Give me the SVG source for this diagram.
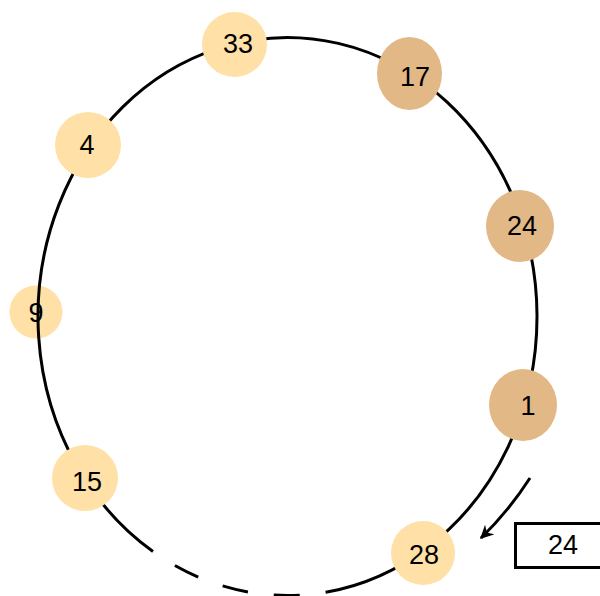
<svg xmlns="http://www.w3.org/2000/svg" width="600" height="596" viewBox="0 0 600 596">
<defs>
<style>
.light{fill:#FFE0A6;}
.dark{fill:#E2B886;}
.t{font-family:"Liberation Sans",Arial,sans-serif;font-size:27px;fill:#000;text-anchor:middle;dominant-baseline:central;}
.ring{fill:none;stroke:#000;stroke-width:3;}
</style>
<marker id="ah" viewBox="0 0 10 10" refX="9" refY="5" markerWidth="4.5" markerHeight="4.5" orient="auto" markerUnits="strokeWidth">
<path d="M0,0 L10,5 L0,10 L3,5 z" fill="#000"/>
</marker>
</defs>
<rect width="600" height="596" fill="#fff"/>
<g id="node-9"><circle class="light" cx="36" cy="312" r="26.5"/><text class="t" x="36" y="313">9</text></g>
<g id="connectors">
<path class="ring" d="M327,592 A249.5,279 0 1 0 153,551.5"/>
<path class="ring" d="M153,551.5 A249.5,279 0 0 0 327,592" stroke-dasharray="26 26" stroke-dashoffset="26"/>
<path d="M530,478 Q508,512 481,538" fill="none" stroke="#000" stroke-width="3" marker-end="url(#ah)"/>
</g>
<g id="node-33"><circle class="light" cx="234.5" cy="44.5" r="32.5"/><text class="t" x="238" y="44">33</text></g>
<g id="node-17"><ellipse class="dark" cx="409.5" cy="73.5" rx="32.5" ry="36.5"/><text class="t" x="415" y="77">17</text></g>
<g id="node-4"><circle class="light" cx="88" cy="145" r="33"/><text class="t" x="87" y="145">4</text></g>
<g id="node-24"><ellipse class="dark" cx="520" cy="226" rx="34" ry="36"/><text class="t" x="522" y="226">24</text></g>
<g id="node-1"><ellipse class="dark" cx="523" cy="405" rx="34" ry="36"/><text class="t" x="528" y="406">1</text></g>
<g id="node-15"><circle class="light" cx="85" cy="478" r="33"/><text class="t" x="87" y="482">15</text></g>
<g id="node-28"><circle class="light" cx="423" cy="553" r="32"/><text class="t" x="424" y="555">28</text></g>
<g id="box-24"><rect x="515.5" y="523.5" width="90" height="44" fill="#fff" stroke="#000" stroke-width="3"/><text class="t" x="563" y="545">24</text></g>
</svg>
